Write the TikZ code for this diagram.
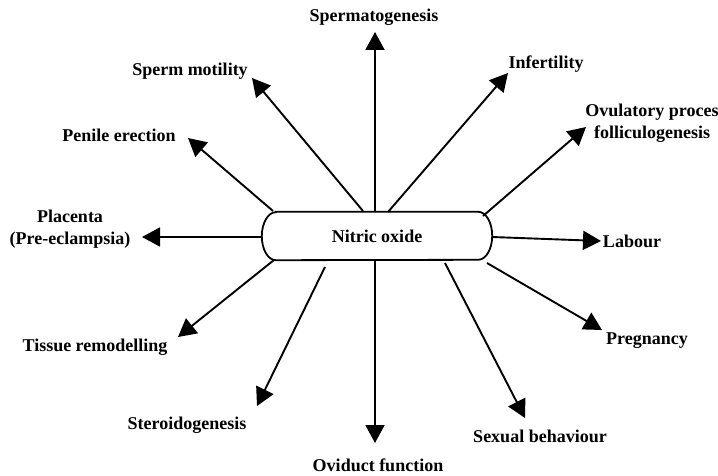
\documentclass[tikz,border=0pt]{standalone}
\usepackage{fontspec}
\setmainfont{Liberation Serif}
\usetikzlibrary{arrows.meta}
\begin{document}
\begin{tikzpicture}[x=1pt,y=-1pt,
  lbl/.style={font=\fontsize{18}{22}\selectfont\bfseries, inner sep=0pt, align=center},
  arr/.style={line width=1.9pt, -{Triangle[length=18pt,width=19pt]}}]
\useasboundingbox (0,0) rectangle (718,476);
\node[lbl, minimum width=230pt, minimum height=48pt] (no) at (377,236) {Nitric oxide};
\draw[line width=1.8pt] ([xshift=14pt]no.north west) -- ([xshift=-14pt]no.north east)
  arc[start angle=90,end angle=-90,x radius=14pt,y radius=24pt]
  -- ([xshift=14pt]no.south west)
  arc[start angle=270,end angle=90,x radius=14pt,y radius=24pt] -- cycle;
% labels
\node[lbl] (sp) at (374,17) {Spermatogenesis};
\node[lbl] (sm) at (190,71) {Sperm motility};
\node[lbl] (inf) at (546,64) {Infertility};
\node[lbl] (pe) at (119,135) {Penile erection};
\node[lbl] (ov) at (652,123) {Ovulatory proces\\folliculogenesis};
\node[lbl] (pl) at (70,229) {Placenta\\(Pre-eclampsia)};
\node[lbl] (lab) at (632,241) {Labour};
\node[lbl] (tr) at (95,347) {Tissue remodelling};
\node[lbl] (pr) at (647,341) {Pregnancy};
\node[lbl] (st) at (187,425) {Steroidogenesis};
\node[lbl] (sb) at (540,436) {Sexual behaviour};
\node[lbl] (of) at (378,465) {Oviduct function};
% arrow ends
\coordinate (a1) at (375,212); \coordinate (b1) at (375,32);
\coordinate (a2) at (363,211); \coordinate (b2) at (252,78);
\coordinate (a3) at (388,212); \coordinate (b3) at (508,73);
\coordinate (a4) at (273,211); \coordinate (b4) at (188,138);
\coordinate (a5) at (483,216); \coordinate (b5) at (586,127);
\coordinate (a6) at (262,237); \coordinate (b6) at (142,237);
\coordinate (a7) at (492,237); \coordinate (b7) at (601,241);
\coordinate (a8) at (274,260); \coordinate (b8) at (178,337);
\coordinate (a9) at (325,267); \coordinate (b9) at (257,406);
\coordinate (a10) at (375,260); \coordinate (b10) at (375,443);
\coordinate (a11) at (445,263); \coordinate (b11) at (525,418);
\coordinate (a12) at (487,263); \coordinate (b12) at (602,330);
\foreach \i in {1,...,12} {\draw[arr] (a\i) -- (b\i);}
\end{tikzpicture}
\end{document}
